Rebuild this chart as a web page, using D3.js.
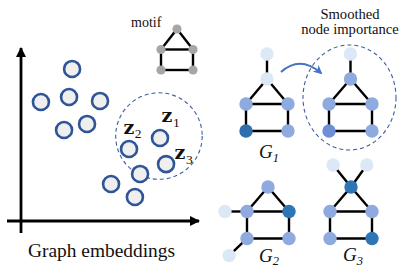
<!DOCTYPE html>
<html>
<head>
<meta charset="utf-8">
<script src="https://cdn.jsdelivr.net/npm/d3@7/dist/d3.min.js"></script>
<style>
html,body{margin:0;padding:0;background:#fff;}
svg{display:block;}
.serif{font-family:"Liberation Serif","Times New Roman",Times,"DejaVu Serif",serif;}
.bserif{font-family:"DejaVu Serif","Liberation Serif",serif;font-weight:bold;}
</style>
</head>
<body>
<svg id="c" width="402" height="269"></svg>
<script>
// ---- data ----
// embedding points (abstract embedding space, 0..100 on both axes)
const embX = [28.7, 11.2, 27.0, 44.4, 24.2, 37.1, 60.7, 78.1, 81.5, 66.9, 50.6, 64.0];
const embY = [87.9, 68.8, 71.7, 69.4, 52.6, 56.1, 41.6, 48.0, 32.9, 27.2, 21.4, 13.9];
const zLabels = ["z", "z", "z"];
const zSubs = ["1", "2", "3"];
const zLabelX = [79.0, 57.6, 86.3];
const zLabelY = [57.2, 50.3, 35.8];
const clusterCenter = [77.5, 49.1];
const clusterRadius = 24.3;

// house-graph layouts: local coords (u: -1..1 columns, v: rows)
const motifU = [0, -1, 1, -1, 1];
const motifV = [0, 1, 1, 2, 2];
const motifEdges = [[0,1],[0,2],[1,2],[1,3],[2,4],[3,4]];

const g1U = [0, 0, -1, 1, -1, 1];
const g1V = [-1, 0, 1, 1, 2.08, 2.08];
const g1Imp = [0.1, 0.1, 0.5, 0.5, 1.0, 0.5];
const smoothImp = [0.1, 0.5, 0.5, 0.5, 0.7, 0.5];
const g1Edges = [[0,1],[1,2],[1,3],[2,3],[2,4],[3,5],[4,5]];

const g2U = [0, -1, 1, -2.05, -1, 1, -1.85];
const g2V = [0, 1, 1, 1, 2.1, 2.1, 2.8];
const g2Imp = [0.5, 0.5, 0.95, 0.1, 0.5, 0.5, 0.1];
const g2Edges = [[0,1],[0,2],[1,2],[1,3],[1,4],[2,5],[4,5],[4,6]];

const g3U = [-0.85, 0.75, 0, -1, 1, -1, 1];
const g3V = [-0.9, -0.9, 0, 1, 1, 2.1, 2.1];
const g3Imp = [0.1, 0.1, 0.95, 0.5, 0.5, 0.5, 0.95];
const g3Edges = [[0,2],[1,2],[2,3],[2,4],[3,4],[3,5],[4,6],[5,6]];

const graphNames = ["G", "G", "G"];
const graphSubs = ["1", "2", "3"];

// ---- drawing ----
const svg = d3.select("#c");
const defs = svg.append("defs");
defs.append("marker").attr("id","axArrow").attr("viewBox","0 0 10 10")
  .attr("refX",9).attr("refY",5).attr("markerWidth",3.6).attr("markerHeight",3.6)
  .attr("markerUnits","strokeWidth").attr("orient","auto")
  .append("path").attr("d","M0,0 L10,5 L0,10 Z").attr("fill","#000");
defs.append("marker").attr("id","blueArrow").attr("viewBox","0 0 10 10")
  .attr("refX",8).attr("refY",5).attr("markerWidth",4.5).attr("markerHeight",4.5)
  .attr("markerUnits","strokeWidth").attr("orient","auto")
  .append("path").attr("d","M0,0 L10,5 L0,10 L3,5 Z").attr("fill","#4472c4");

const x = d3.scaleLinear().domain([0,100]).range([21,199]);
const y = d3.scaleLinear().domain([0,100]).range([221,48]);

// axes
svg.append("line").attr("x1",21).attr("y1",233).attr("x2",21).attr("y2",y(100))
  .attr("stroke","#000").attr("stroke-width",2.8).attr("marker-end","url(#axArrow)");
svg.append("line").attr("x1",7).attr("y1",221).attr("x2",x(100)).attr("y2",221)
  .attr("stroke","#000").attr("stroke-width",2.8).attr("marker-end","url(#axArrow)");

// cluster dashed circle
svg.append("circle").attr("cx",x(clusterCenter[0])).attr("cy",y(clusterCenter[1]))
  .attr("r",x(clusterRadius)-x(0))
  .attr("fill","none").attr("stroke","#3d5f9c").attr("stroke-width",1.1)
  .attr("stroke-dasharray","4,3");

// embedding points
const pts = d3.range(embX.length).map(i=>({x:embX[i],y:embY[i]}));
svg.selectAll("circle.emb").data(pts).enter().append("circle")
  .attr("class","emb").attr("cx",d=>x(d.x)).attr("cy",d=>y(d.y)).attr("r",8)
  .attr("fill","#efefef").attr("stroke","#2f5597").attr("stroke-width",2.6);

// z labels
zLabels.forEach((t,i)=>{
  const tx = svg.append("text").attr("class","bserif").attr("x",x(zLabelX[i])).attr("y",y(zLabelY[i]))
    .attr("font-size",19).attr("fill","#111");
  tx.append("tspan").text(t);
  tx.append("tspan").attr("class","serif").attr("dy",4.5).attr("dx",0.5)
    .attr("font-weight","normal").attr("font-size",13.5).text(zSubs[i]);
});

// texts
svg.append("text").attr("class","serif").attr("x",28).attr("y",257)
  .attr("font-size",19.4).attr("fill","#111").text("Graph embeddings");
svg.append("text").attr("class","serif").attr("x",131).attr("y",27)
  .attr("font-size",14).attr("fill","#111").text("motif");
svg.append("text").attr("class","serif").attr("x",350).attr("y",19).attr("text-anchor","middle")
  .attr("font-size",14.6).attr("fill","#111").text("Smoothed");
svg.append("text").attr("class","serif").attr("x",350).attr("y",33.5).attr("text-anchor","middle")
  .attr("font-size",14.6).attr("fill","#111").text("node importance");

// color scale for importance
const color = d3.scaleLinear().domain([0.1,0.5,0.7,0.95,1.0])
  .range(["#dde8f6","#8eaadf","#6e8fd6","#2e75b6","#2e6ead"]);

function drawGraph(cx, cy, sx, sy, U, V, edges, imp, r, fillConst){
  const lx = d3.scaleLinear().domain([-1,1]).range([cx-sx, cx+sx]);
  const ly = d3.scaleLinear().domain([0,1]).range([cy, cy+sy]);
  const g = svg.append("g");
  g.selectAll("line").data(edges).enter().append("line")
    .attr("x1",e=>lx(U[e[0]])).attr("y1",e=>ly(V[e[0]]))
    .attr("x2",e=>lx(U[e[1]])).attr("y2",e=>ly(V[e[1]]))
    .attr("stroke","#000").attr("stroke-width",2.4);
  g.selectAll("circle").data(U).enter().append("circle")
    .attr("cx",(d,i)=>lx(U[i])).attr("cy",(d,i)=>ly(V[i])).attr("r",r)
    .attr("fill",(d,i)=>fillConst || color(imp[i]));
}

// motif
drawGraph(177, 29, 16, 20.5, motifU, motifV, motifEdges, null, 4.6, "#a6a6a6");
// G1
drawGraph(267, 79, 21, 25, g1U, g1V, g1Edges, g1Imp, 6.7);
// smoothed
drawGraph(350.5, 79, 21.5, 25, g1U, g1V, g1Edges, smoothImp, 6.7);
// G2
drawGraph(268, 187, 21, 24.5, g2U, g2V, g2Edges, g2Imp, 6.7);
// G3
drawGraph(351, 187, 21, 24.5, g3U, g3V, g3Edges, g3Imp, 6.7);

// dashed ellipse around smoothed graph
svg.append("ellipse").attr("cx",349.5).attr("cy",97.5).attr("rx",46.5).attr("ry",52.5)
  .attr("fill","none").attr("stroke","#3d5f9c").attr("stroke-width",1.1).attr("stroke-dasharray","4,3");

// curved arrow
svg.append("path").attr("d","M281,72 Q300,55 321,73")
  .attr("fill","none").attr("stroke","#4472c4").attr("stroke-width",2)
  .attr("marker-end","url(#blueArrow)");

// graph labels
const labelX = [259, 259, 343];
const labelY = [158, 261.5, 261];
graphNames.forEach((n,i)=>{
  const t = svg.append("text").attr("class","serif").attr("x",labelX[i]).attr("y",labelY[i])
    .attr("font-style","italic").attr("font-size",19).attr("fill","#111");
  t.append("tspan").text(n);
  t.append("tspan").attr("dy",3.5).attr("font-size",12.5).text(graphSubs[i]);
});
</script>
</body>
</html>
